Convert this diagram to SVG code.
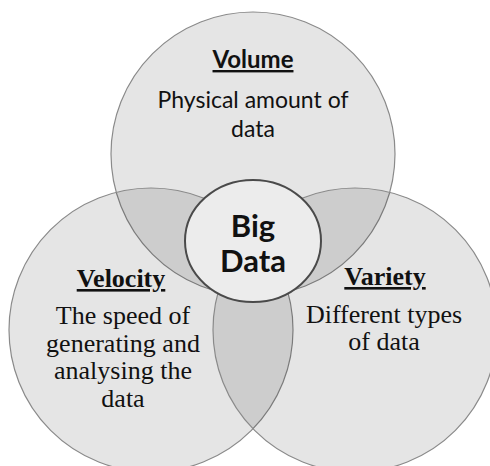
<svg xmlns="http://www.w3.org/2000/svg" width="490" height="466" viewBox="0 0 490 466">
  <style>
    .set { fill: #000; fill-opacity: 0.1; stroke: #8a8a8a; stroke-width: 1.2; }
    .core { fill: #ececec; stroke: #4a4a4a; stroke-width: 2; }
    .sans { font-family: Lato, "Open Sans", "Liberation Sans", sans-serif; fill: #111; text-anchor: middle; }
    .rm { fill: #111; text-anchor: middle; font-size: 26px; }
    .head { font-weight: bold; text-decoration: underline; }
  </style>
  <rect width="490" height="466" fill="#ffffff"/>
  <g id="volume">
    <circle class="set" cx="253" cy="154" r="142"/>
    <text class="sans head" x="253" y="68" font-size="24">Volume</text>
    <text class="sans" x="253" y="108" font-size="23">Physical amount of</text>
    <text class="sans" x="253" y="137" font-size="23">data</text>
  </g>
  <g id="velocity" style="font-family:'Liberation Serif','Times New Roman',Times,'DejaVu Serif','Noto Serif',serif">
    <circle class="set" cx="151" cy="330" r="142"/>
    <text class="rm head" x="121" y="287">Velocity</text>
    <text class="rm" x="123" y="324">The speed of</text>
    <text class="rm" x="123" y="352">generating and</text>
    <text class="rm" x="123" y="379">analysing the</text>
    <text class="rm" x="123" y="407">data</text>
  </g>
  <g id="variety" style="font-family:'Liberation Serif','Times New Roman',Times,'DejaVu Serif','Noto Serif',serif">
    <circle class="set" cx="355" cy="330" r="142"/>
    <text class="rm head" x="385" y="285">Variety</text>
    <text class="rm" x="384" y="323">Different types</text>
    <text class="rm" x="384" y="350">of data</text>
  </g>
  <g id="big-data">
    <ellipse class="core" cx="253" cy="241" rx="68" ry="61"/>
    <text class="sans" x="253" y="237" font-size="31" font-weight="bold">Big</text>
    <text class="sans" x="253" y="272" font-size="31" font-weight="bold">Data</text>
  </g>
</svg>
